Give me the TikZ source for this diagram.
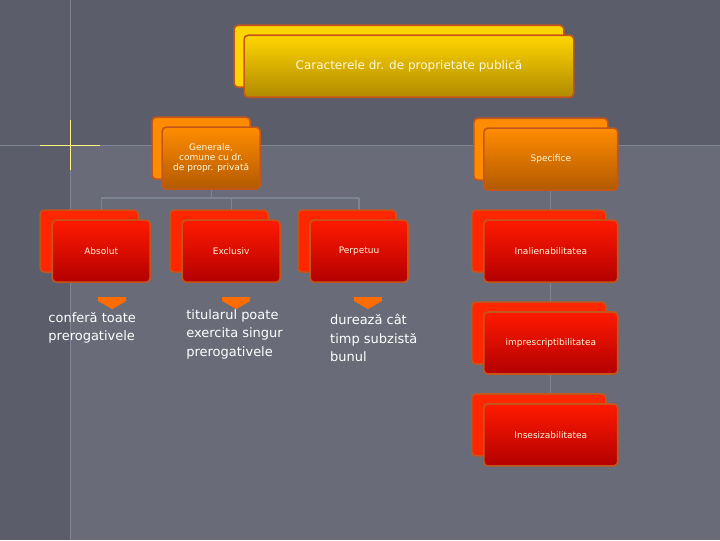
\documentclass[tikz,border=0pt]{standalone}
\usepackage{fontspec}
\setmainfont{DejaVu Sans}
\usetikzlibrary{positioning,shadows,shapes.arrows,backgrounds}
\definecolor{slide}{HTML}{5B5E6A}
\definecolor{panel}{HTML}{696C78}
\definecolor{wire}{HTML}{7E8494}
\definecolor{rim}{HTML}{C4561C}
\definecolor{txt}{HTML}{FFF8DC}
\definecolor{goldtop}{HTML}{FFD500}
\definecolor{goldbot}{HTML}{B08A00}

\begin{document}
\begin{tikzpicture}[x=1pt, y=-1pt,
    card/.style={draw=rim, line width=1.6pt, rounded corners=4pt, align=center, text=txt,
        font=\fontsize{9}{10}\selectfont, minimum height=62pt, inner sep=1pt},
    gold/.style={card, top color=goldtop, bottom color=goldbot,
        copy shadow={shadow xshift=-10pt, shadow yshift=10pt, fill=goldtop, draw=rim}},
    amber/.style={card, top color=orange!90!yellow, bottom color=orange!70!black,
        copy shadow={shadow xshift=-10pt, shadow yshift=10pt, fill=orange!90!yellow, draw=rim}},
    ember/.style={card, top color=red!80!orange, bottom color=red!70!black,
        copy shadow={shadow xshift=-12pt, shadow yshift=10pt, fill=red!70!orange, draw=rim}},
    pointer/.style={single arrow, fill=orange!85!red, shape border rotate=270, minimum width=28pt,
        minimum height=12pt, single arrow head extend=0pt, single arrow tip angle=120, inner sep=0pt},
    note/.style={anchor=north west, align=left, text=white, font=\fontsize{13}{18.5}\selectfont, inner sep=0pt}]
    % Nodes (title, two groups and their items)
    \node[gold, minimum width=330pt, font=\fontsize{12}{13}\selectfont] (title) at (409,66) {Caracterele dr. de proprietate publică};
    \node[amber, minimum width=98pt] (general) at (211,158) {Generale,\\comune cu dr.\\de propr. privată};
    \node[amber, minimum width=134pt] (specific) at (551,159) {Specifice};
    \node[ember, minimum width=98pt] (absolut) at (101,251) {Absolut};
    \node[ember, minimum width=98pt] (exclusiv) at (231,251) {Exclusiv};
    \node[ember, minimum width=98pt] (perpetuu) at (359,251) {Perpetuu};
    \node[ember, minimum width=134pt] (inalien) at (551,251) {Inalienabilitatea};
    \node[ember, minimum width=134pt] (imprescr) at (551,343) {imprescriptibilitatea};
    \node[ember, minimum width=134pt] (insesiz) at (551,435) {Insesizabilitatea};
    % Arrows and explanations
    \node[pointer] (ptr1) at (112,299) {};
    \node[pointer] (ptr2) at (236,299) {};
    \node[pointer] (ptr3) at (368,299) {};
    \node[note] (expl1) at (48,312) {conferă toate\\prerogativele};
    \node[note] (expl2) at (186,309) {titularul poate\\exercita singur\\prerogativele};
    \node[note] (expl3) at (330,314) {durează cât\\timp subzistă\\bunul};
    % Background and connectors
    \begin{scope}[on background layer]
        \fill[slide] (0,0) rectangle (720,540);
        \fill[panel] (70,145) rectangle (720,540);
        \draw[wire, line width=0.6pt] (0,145) -- (720,145) (70,0) -- (70,540);
        \draw[yellow!50, line width=1pt] (40,145) -- (100,145) (70,120) -- (70,170);
        \draw[wire, line width=1.2pt] (general.south) -- ++(0,8) coordinate (bar)
            (absolut.north |- bar) -- (perpetuu.north |- bar)
            (absolut.north |- bar) -- (absolut.north)
            (exclusiv.north |- bar) -- (exclusiv.north)
            (perpetuu.north |- bar) -- (perpetuu.north);
        \draw[wire, line width=1.2pt] (specific.south) -- (insesiz.north);
    \end{scope}
\end{tikzpicture}
\end{document}
